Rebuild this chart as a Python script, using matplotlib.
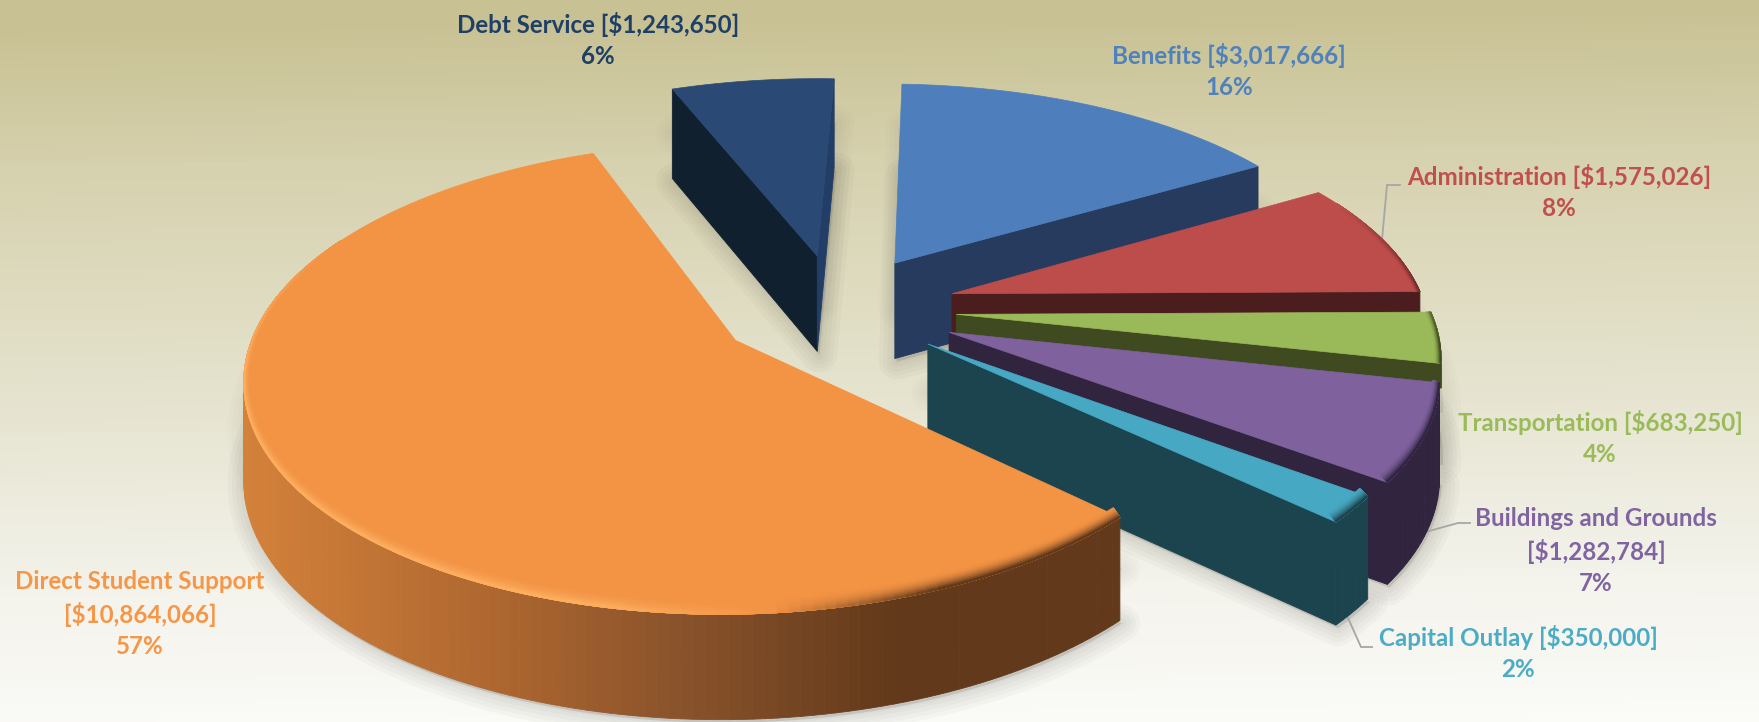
import numpy as np
import matplotlib
matplotlib.use("Agg")
import matplotlib.pyplot as plt
from matplotlib.colors import to_rgb, LinearSegmentedColormap

categories = ["Benefits", "Administration", "Transportation", "Buildings and Grounds",
              "Capital Outlay", "Direct Student Support", "Debt Service"]
amounts = [3017666, 1575026, 683250, 1282784, 350000, 10864066, 1243650]
percents = [16, 8, 4, 7, 2, 57, 6]
top_colors = ["#4E7FBC", "#BC4D4A", "#9AB958", "#7F619D", "#47A8C3", "#F39344", "#2A4A75"]
wall_colors = ["#263B5E", "#4C1D1E", "#3F4A20", "#30243F", "#1C444F", "#62391A", "#10202F"]
text_colors = ["#4F81BD", "#C0504D", "#9BBB59", "#8064A2", "#4BACC6", "#F79646", "#1F3F66"]
explode = [0.249, 0.256, 0.253, 0.256, 0.244, 0.253, 0.251]
wall_depth = [1, 1, 0.25, 1, 1, 1, 1]

name_breaks = [" ", " ", " ", "\n", " ", "\n", " "]
label_pos = [(1229, 71), (1559, 192), (1600, 438), (1596, 551), (1518, 653), (140, 614), (598, 40)]
leaders = {
    1: ([1400, 1387, 1382], [185, 185, 240]),
    3: ([1470, 1458, 1400], [523, 523, 539]),
    4: ([1372, 1361, 1340], [647, 647, 600]),
}
draw_order = [6, 0, 1, 2, 3, 4, 5]

# Pie geometry and camera
START_DEG = 2.475
CX, CY = 836.6, 308.6
A, B, HEIGHT = 473.6, 210.6, 96.9
PERSP_X, PERSP_Y, PERSP_Z = 0.150, 0.156, 0.071
SHIFT_X, SHIFT_Y = 22.1, 61.3

W, H = 1759, 722
fig = plt.figure(figsize=(W / 100, H / 100), dpi=100)
ax = fig.add_axes([0, 0, 1, 1])
ax.set_xlim(0, W)
ax.set_ylim(H, 0)
ax.axis("off")

# Backdrop
bg = LinearSegmentedColormap.from_list(
    "bg", [(0, "#C8C193"), (0.2, "#D6D1AE"), (0.5, "#E4E2CC"), (0.8, "#F4F3EC"), (1, "#FBFBF8")])
yy, xx = np.mgrid[0:1:200j, 0:1:200j]
ax.imshow(yy - 0.03 * (1 - xx), cmap=bg, vmin=0, vmax=1, extent=(0, W, H, 0), aspect="auto", zorder=0)


def project(X, Y, z=0.0):
    wx, wy, wz = 1 + PERSP_X * Y, 1 + PERSP_Y * Y, 1 + PERSP_Z * Y
    sx = CX + (A * X + SHIFT_X) / wx - SHIFT_X
    sy = CY + (-B * Y + SHIFT_Y) / wy - SHIFT_Y + HEIGHT * z / wz
    return sx, sy


def mix(c1, c2, t):
    t = np.clip(t, 0, 1)
    return tuple(np.array(to_rgb(c1)) * (1 - t) + np.array(to_rgb(c2)) * t)


fractions = np.array(amounts) / np.sum(amounts)
edges = START_DEG + 360 * np.concatenate([[0], np.cumsum(fractions)])


def outline(i, n=None):
    t0, t1 = edges[i], edges[i + 1]
    mid = np.radians((t0 + t1) / 2)
    ox, oy = explode[i] * np.sin(mid), explode[i] * np.cos(mid)
    n = n or max(6, int((t1 - t0) / 1.2))
    th = np.radians(np.linspace(t0, t1, n))
    return ox + np.sin(th), oy + np.cos(th), ox, oy, th


def quad(p, q, r, s, color, zorder):
    ax.fill([p[0], q[0], r[0], s[0]], [p[1], q[1], r[1], s[1]], color=color, lw=0.6, zorder=zorder)


def signed_area(p, q, r, s):
    xs = [p[0], q[0], r[0], s[0]]
    ys = [p[1], q[1], r[1], s[1]]
    return sum(xs[k] * ys[(k + 1) % 4] - xs[(k + 1) % 4] * ys[k] for k in range(4))


def wall_shade(i, x):
    if i == 5:
        stops = [240, 500, 710, 900]
        cols = [to_rgb(c) for c in ("#D5823A", "#AE6730", "#85502A", "#62391A")]
        return tuple(np.interp(x, stops, [c[k] for c in cols]) for k in range(3))
    return wall_colors[i]


# Soft ground shadow under every slice
for i in range(len(categories)):
    X, Y, ox, oy, _ = outline(i)
    xs, ys = project(np.r_[ox, X], np.r_[oy, Y], 1.0)
    xt, yt = project(np.r_[ox, X], np.r_[oy, Y], 0.5)
    for lw in (26, 20, 14, 8, 3):
        ax.fill(xs + 2, ys + 3, color="#55534a", alpha=0.035, lw=lw, joinstyle="round", zorder=1)
        ax.fill(xt + 2, yt, color="#55534a", alpha=0.02, lw=lw, joinstyle="round", zorder=1)

# Leader lines sit behind the slices and run up to their edges
for i, (lx, ly) in leaders.items():
    ax.plot(lx, ly, color="#A6A6A6", lw=1.3, zorder=1.5, solid_joinstyle="miter")

BEVEL_STEPS = 9
z = 2
for i in draw_order:
    X, Y, ox, oy, th = outline(i)
    depth = wall_depth[i]
    apex_top, apex_bot = project(ox, oy, 0), project(ox, oy, depth)
    top = np.array(project(X, Y, 0)).T
    bot = np.array(project(X, Y, depth)).T

    # radial cut faces
    first = (apex_top, tuple(top[0]), tuple(bot[0]), apex_bot)
    last = (tuple(top[-1]), apex_top, apex_bot, tuple(bot[-1]))
    if signed_area(*first) < 0:
        quad(*first, wall_colors[i], z)
    if signed_area(*last) < 0:
        end_col = "#223E66" if i == 6 else wall_colors[i]
        quad(*last, end_col, z)
    z += 1

    # outer wall, built from narrow shaded strips
    for k in range(len(top) - 1):
        if signed_area(top[k], top[k + 1], bot[k + 1], bot[k]) < 0:
            quad(top[k], top[k + 1], bot[k + 1], bot[k], wall_shade(i, top[k][0]), z)
    z += 1

    # top face
    ax.fill(np.r_[apex_top[0], top[:, 0]], np.r_[apex_top[1], top[:, 1]],
            color=top_colors[i], lw=0.5, zorder=z)
    z += 1

    # bevel along the outer rim: an elliptical inset, wider in depth than in width
    for step in range(BEVEL_STEPS, 0, -1):
        f = step / BEVEL_STEPS
        weight = (1 - f + 1 / BEVEL_STEPS) ** 2
        rx, ry = 1 - 0.012 * f, 1 - 0.05 * f
        Xo, Yo = ox + np.sin(th), oy + np.cos(th)
        Xi, Yi = ox + rx * np.sin(th), oy + ry * np.cos(th)
        po = np.array(project(Xo, Yo, 0)).T
        pi = np.array(project(Xi, Yi, 0)).T
        for k in range(len(th) - 1):
            s, c = np.sin(th[k]), np.cos(th[k])
            if c > 0.45:
                continue
            fade = min(1, (0.45 - c) / 0.6)
            if s > 0.1:
                col = mix(top_colors[i], wall_colors[i], weight * fade * min(1, (s - 0.1) / 0.3))
            elif i == 5:
                col = mix(top_colors[i], "#FFB566", weight * 0.8 * fade * min(1, (0.1 - s) / 0.3))
            else:
                col = top_colors[i]
            quad(po[k], po[k + 1], pi[k + 1], pi[k], col, z)
        z += 1

# Data labels
for i, (px, py) in enumerate(label_pos):
    text = f"{categories[i]}{name_breaks[i]}[${amounts[i]:,}]\n{percents[i]}%"
    ax.text(px, py, text, color=text_colors[i], ha="center", va="center",
            fontsize=17.4, fontweight="bold", family="Lato", linespacing=1.42, zorder=z + 1)

fig.savefig("out.png", dpi=100)
